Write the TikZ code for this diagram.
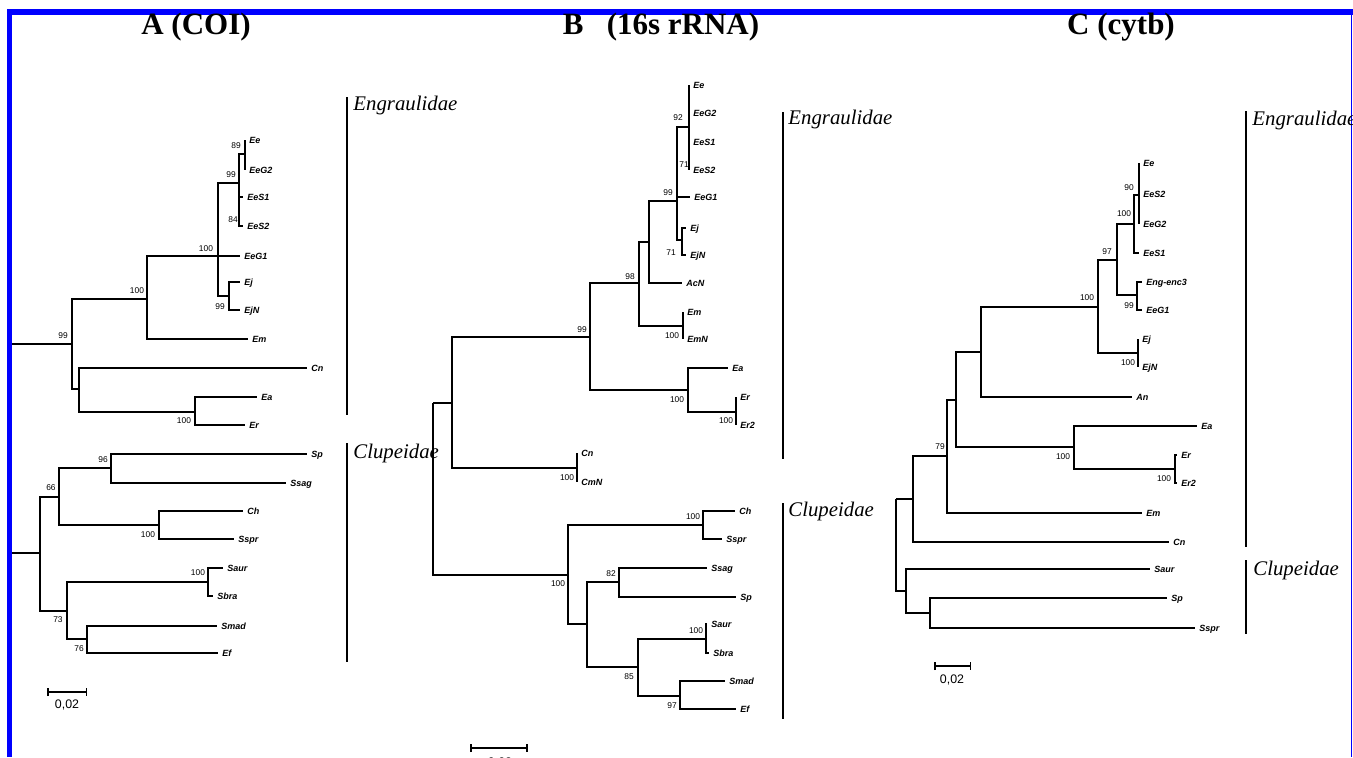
\documentclass[tikz,border=0pt]{standalone}
\usepackage{fontspec}
\setmainfont{Liberation Serif}
\setsansfont{Liberation Sans}
\usetikzlibrary{arrows.meta}
\tikzset{
  br/.style={line width=0.9pt},
  taxon/.style={anchor=west, inner sep=2pt, text height=3.2pt, text depth=0pt,
    font=\sffamily\bfseries\itshape\fontsize{4.5}{5}\selectfont},
  bs/.style={inner sep=0pt, font=\sffamily\fontsize{4.2}{5}\selectfont},
  fambar/.style={line width=1pt},
  famlab/.style={anchor=base west, inner sep=0pt, font=\itshape\fontsize{10.4}{12}\selectfont},
  ttl/.style={anchor=base, inner sep=0pt, font=\bfseries\fontsize{15.5}{18}\selectfont},
  scl/.style={anchor=base, inner sep=0pt, font=\sffamily\fontsize{6.2}{7}\selectfont},
  sbar/.style={line width=0.75pt, {Bar[width=4pt]}-{Bar[width=4pt]}},
  every picture/.style={line cap=butt, line join=miter}
}

\begin{document}
\begin{tikzpicture}[x=0.5pt,y=-0.5pt]
  \useasboundingbox (0,0) rectangle (1353,757);
  % frame
  \fill[blue] (7,9) rectangle (1353,15);
  \fill[blue] (7,9) rectangle (12,757);
  \fill[blue] (1350.5,9) rectangle (1352.2,757);

  \node[ttl] (tA) at (196,34) {A (COI)};
  \node[ttl] (tB) at (661,34) {B\hspace{0.75em}(16s rRNA)};
  \node[ttl] (tC) at (1121,34) {C (cytb)};

  % ---------- A (COI) ----------
  \coordinate (aR) at (12,344);
  \coordinate (a1) at (72,344);
  \coordinate (a2) at (147,299);
  \coordinate (a3) at (218,256);
  \coordinate (a4) at (239,183);
  \coordinate (a5) at (245,154);
  \coordinate (a6) at (239,211);
  \coordinate (a7) at (229,296);
  \coordinate (a8) at (79,389);
  \coordinate (a9) at (195,412);
  \coordinate (aQ) at (12,553);
  \coordinate (a10) at (40,553);
  \coordinate (a11) at (59,497);
  \coordinate (a12) at (111,468);
  \coordinate (a13) at (159,525);
  \coordinate (a14) at (67,611);
  \coordinate (a15) at (208,582);
  \coordinate (a16) at (87,639);

  \node[taxon] (aEe) at (245,140) {Ee};
  \node[taxon] (aEeG2) at (245,170) {EeG2};
  \node[taxon] (aEeS1) at (243,197) {EeS1};
  \node[taxon] (aEeS2) at (243,226) {EeS2};
  \node[taxon] (aEeG1) at (240,256) {EeG1};
  \node[taxon] (aEj) at (240,282) {Ej};
  \node[taxon] (aEjN) at (240,310) {EjN};
  \node[taxon] (aEm) at (248,339) {Em};
  \node[taxon] (aCn) at (307,368) {Cn};
  \node[taxon] (aEa) at (257,397) {Ea};
  \node[taxon] (aEr) at (245,425) {Er};
  \node[taxon] (aSp) at (307,454) {Sp};
  \node[taxon] (aSsag) at (286,483) {Ssag};
  \node[taxon] (aCh) at (243,511) {Ch};
  \node[taxon] (aSspr) at (234,539) {Sspr};
  \node[taxon] (aSaur) at (223,568) {Saur};
  \node[taxon] (aSbra) at (213,596) {Sbra};
  \node[taxon] (aSmad) at (217,626) {Smad};
  \node[taxon] (aEf) at (218,653) {Ef};

  \draw[br] (aR) -- (a1);
  \draw[br] (a1) |- (a2) (a1) |- (a8);
  \draw[br] (a2) |- (a3) (a2) |- (aEm.west);
  \draw[br] (a3) |- (a4) (a3) |- (aEeG1.west) (a3) |- (a7);
  \draw[br] (a4) |- (a5) (a4) |- (a6);
  \draw[br] (a5) |- (aEe.west) (a5) |- (aEeG2.west);
  \draw[br] (a6) |- (aEeS1.west) (a6) |- (aEeS2.west);
  \draw[br] (a7) |- (aEj.west) (a7) |- (aEjN.west);
  \draw[br] (a8) |- (aCn.west) (a8) |- (a9);
  \draw[br] (a9) |- (aEa.west) (a9) |- (aEr.west);
  \draw[br] (aQ) -- (a10);
  \draw[br] (a10) |- (a11) (a10) |- (a14);
  \draw[br] (a11) |- (a12) (a11) |- (a13);
  \draw[br] (a12) |- (aSp.west) (a12) |- (aSsag.west);
  \draw[br] (a13) |- (aCh.west) (a13) |- (aSspr.west);
  \draw[br] (a14) |- (a15) (a14) |- (a16);
  \draw[br] (a15) |- (aSaur.west) (a15) |- (aSbra.west);
  \draw[br] (a16) |- (aSmad.west) (a16) |- (aEf.west);

  \node[bs] (ba1) at (236,146) {89};
  \node[bs] (ba2) at (231,175) {99};
  \node[bs] (ba3) at (233,220) {84};
  \node[bs] (ba4) at (206,249) {100};
  \node[bs] (ba5) at (220,307) {99};
  \node[bs] (ba6) at (137,291) {100};
  \node[bs] (ba7) at (63,336) {99};
  \node[bs] (ba8) at (184,421) {100};
  \node[bs] (ba9) at (103,460) {96};
  \node[bs] (ba10) at (51,488) {66};
  \node[bs] (ba11) at (148,535) {100};
  \node[bs] (ba12) at (198,573) {100};
  \node[bs] (ba13) at (58,620) {73};
  \node[bs] (ba14) at (79,649) {76};

  \draw[fambar] (347,97) -- (347,415);
  \node[famlab] (aEng) at (353,110) {Engraulidae};
  \draw[fambar] (347,443) -- (347,662);
  \node[famlab] (aClu) at (353,458) {Clupeidae};
  \draw[sbar] (47,692) -- (87,692);
  \node[scl] (sA) at (67,708) {0,02};

  % ---------- B (16s rRNA) ----------
  \coordinate (b1) at (433,403);
  \coordinate (b2) at (452,403);
  \coordinate (b3) at (590,337);
  \coordinate (b4) at (639,283);
  \coordinate (b5) at (649,242);
  \coordinate (b6) at (677,201);
  \coordinate (b7) at (689,127);
  \coordinate (b8) at (682,240);
  \coordinate (b9) at (683,326);
  \coordinate (b10) at (688,390);
  \coordinate (b11) at (736,412);
  \coordinate (b12) at (577,468);
  \coordinate (b13) at (568,575);
  \coordinate (b14) at (703,525);
  \coordinate (b15) at (587,624);
  \coordinate (b16) at (619,582);
  \coordinate (b17) at (638,667);
  \coordinate (b18) at (706,639);
  \coordinate (b19) at (680,696);

  \node[taxon] (bEe) at (689,85) {Ee};
  \node[taxon] (bEeG2) at (689,113) {EeG2};
  \node[taxon] (bEeS1) at (689,142) {EeS1};
  \node[taxon] (bEeS2) at (689,170) {EeS2};
  \node[taxon] (bEeG1) at (690,197) {EeG1};
  \node[taxon] (bEj) at (686,228) {Ej};
  \node[taxon] (bEjN) at (686,255) {EjN};
  \node[taxon] (bAcN) at (682,283) {AcN};
  \node[taxon] (bEm) at (683,312) {Em};
  \node[taxon] (bEmN) at (683,339) {EmN};
  \node[taxon] (bEa) at (728,368) {Ea};
  \node[taxon] (bEr) at (736,397) {Er};
  \node[taxon] (bEr2) at (736,425) {Er2};
  \node[taxon] (bCn) at (577,453) {Cn};
  \node[taxon] (bCmN) at (577,482) {CmN};
  \node[taxon] (bCh) at (735,511) {Ch};
  \node[taxon] (bSspr) at (722,539) {Sspr};
  \node[taxon] (bSsag) at (707,568) {Ssag};
  \node[taxon] (bSp) at (736,597) {Sp};
  \node[taxon] (bSaur) at (707,624) {Saur};
  \node[taxon] (bSbra) at (709,653) {Sbra};
  \node[taxon] (bSmad) at (725,681) {Smad};
  \node[taxon] (bEf) at (736,709) {Ef};

  \draw[br] (b1) -- (b2) (b1) |- (b13);
  \draw[br] (b2) |- (b3) (b2) |- (b12);
  \draw[br] (b3) |- (b4) (b3) |- (b10);
  \draw[br] (b4) |- (b5) (b4) |- (b9);
  \draw[br] (b5) |- (b6) (b5) |- (bAcN.west);
  \draw[br] (b6) |- (b7) (b6) |- (bEeG1.west) (b6) |- (b8);
  \draw[br] (b7) |- (bEe.west) (b7) |- (bEeG2.west) (b7) |- (bEeS1.west) (b7) |- (bEeS2.west);
  \draw[br] (b8) |- (bEj.west) (b8) |- (bEjN.west);
  \draw[br] (b9) |- (bEm.west) (b9) |- (bEmN.west);
  \draw[br] (b10) |- (bEa.west) (b10) |- (b11);
  \draw[br] (b11) |- (bEr.west) (b11) |- (bEr2.west);
  \draw[br] (b12) |- (bCn.west) (b12) |- (bCmN.west);
  \draw[br] (b13) |- (b14) (b13) |- (b15);
  \draw[br] (b14) |- (bCh.west) (b14) |- (bSspr.west);
  \draw[br] (b15) |- (b16) (b15) |- (b17);
  \draw[br] (b16) |- (bSsag.west) (b16) |- (bSp.west);
  \draw[br] (b17) |- (b18) (b17) |- (b19);
  \draw[br] (b18) |- (bSaur.west) (b18) |- (bSbra.west);
  \draw[br] (b19) |- (bSmad.west) (b19) |- (bEf.west);

  \node[bs] (bb1) at (678,118) {92};
  \node[bs] (bb2) at (684,165) {71};
  \node[bs] (bb3) at (668,193) {99};
  \node[bs] (bb4) at (671,253) {71};
  \node[bs] (bb5) at (630,277) {98};
  \node[bs] (bb6) at (582,330) {99};
  \node[bs] (bb7) at (672,336) {100};
  \node[bs] (bb8) at (677,400) {100};
  \node[bs] (bb9) at (726,421) {100};
  \node[bs] (bb10) at (567,478) {100};
  \node[bs] (bb11) at (558,584) {100};
  \node[bs] (bb12) at (693,517) {100};
  \node[bs] (bb13) at (611,574) {82};
  \node[bs] (bb14) at (696,631) {100};
  \node[bs] (bb15) at (629,677) {85};
  \node[bs] (bb16) at (672,706) {97};

  \draw[fambar] (783,112) -- (783,459);
  \node[famlab] (bEng) at (788,124) {Engraulidae};
  \draw[fambar] (783,503) -- (783,719);
  \node[famlab] (bClu) at (788,516) {Clupeidae};
  \draw[sbar, line width=1.2pt] (470,748) -- (528,748);
  \node[scl] (sB) at (500,766) {0,02};

  % ---------- C (cytb) ----------
  \coordinate (c1) at (896,499);
  \coordinate (c2) at (913,499);
  \coordinate (c3) at (947,456);
  \coordinate (c4) at (956,400);
  \coordinate (c5) at (981,352);
  \coordinate (c6) at (1098,307);
  \coordinate (c7) at (1117,260);
  \coordinate (c8) at (1134,224);
  \coordinate (c9) at (1139,195);
  \coordinate (c10) at (1137,295);
  \coordinate (c11) at (1138,353);
  \coordinate (c12) at (1074,447);
  \coordinate (c13) at (1175,469);
  \coordinate (c14) at (906,591);
  \coordinate (c15) at (930,613);

  \node[taxon] (cEe) at (1139,163) {Ee};
  \node[taxon] (cEeS2) at (1139,194) {EeS2};
  \node[taxon] (cEeG2) at (1139,224) {EeG2};
  \node[taxon] (cEeS1) at (1139,253) {EeS1};
  \node[taxon] (cEng) at (1142,282) {Eng-enc3};
  \node[taxon] (cEeG1) at (1142,310) {EeG1};
  \node[taxon] (cEj) at (1138,339) {Ej};
  \node[taxon] (cEjN) at (1138,367) {EjN};
  \node[taxon] (cAn) at (1132,397) {An};
  \node[taxon] (cEa) at (1197,426) {Ea};
  \node[taxon] (cEr) at (1177,455) {Er};
  \node[taxon] (cEr2) at (1177,483) {Er2};
  \node[taxon] (cEm) at (1142,513) {Em};
  \node[taxon] (cCn) at (1169,542) {Cn};
  \node[taxon] (cSaur) at (1150,569) {Saur};
  \node[taxon] (cSp) at (1167,598) {Sp};
  \node[taxon] (cSspr) at (1195,628) {Sspr};

  \draw[br] (c1) -- (c2) (c1) |- (c14);
  \draw[br] (c2) |- (c3) (c2) |- (cCn.west);
  \draw[br] (c3) |- (c4) (c3) |- (cEm.west);
  \draw[br] (c4) |- (c5) (c4) |- (c12);
  \draw[br] (c5) |- (c6) (c5) |- (cAn.west);
  \draw[br] (c6) |- (c7) (c6) |- (c11);
  \draw[br] (c7) |- (c8) (c7) |- (c10);
  \draw[br] (c8) |- (c9) (c8) |- (cEeS1.west);
  \draw[br] (c9) |- (cEe.west) (c9) |- (cEeS2.west) (c9) |- (cEeG2.west);
  \draw[br] (c10) |- (cEng.west) (c10) |- (cEeG1.west);
  \draw[br] (c11) |- (cEj.west) (c11) |- (cEjN.west);
  \draw[br] (c12) |- (cEa.west) (c12) |- (c13);
  \draw[br] (c13) |- (cEr.west) (c13) |- (cEr2.west);
  \draw[br] (c14) |- (cSaur.west) (c14) |- (c15);
  \draw[br] (c15) |- (cSp.west) (c15) |- (cSspr.west);

  \node[bs] (bc1) at (1129,188) {90};
  \node[bs] (bc2) at (1124,214) {100};
  \node[bs] (bc3) at (1107,252) {97};
  \node[bs] (bc4) at (1087,298) {100};
  \node[bs] (bc5) at (1129,306) {99};
  \node[bs] (bc6) at (1128,363) {100};
  \node[bs] (bc7) at (1063,457) {100};
  \node[bs] (bc8) at (1164,479) {100};
  \node[bs] (bc9) at (940,447) {79};

  \draw[fambar] (1246,111) -- (1246,547);
  \node[famlab] (cEngr) at (1252,125) {Engraulidae};
  \draw[fambar] (1246,560) -- (1246,634);
  \node[famlab] (cClu) at (1253,575) {Clupeidae};
  \draw[sbar] (934,666) -- (971,666);
  \node[scl] (sC) at (952,683) {0,02};
\end{tikzpicture}
\end{document}
